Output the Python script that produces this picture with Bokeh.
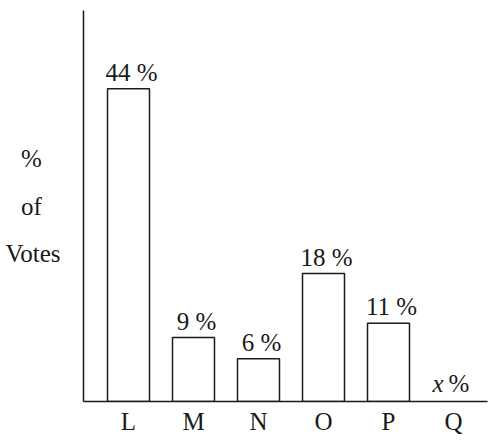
import numpy as np
from bokeh.plotting import figure
from bokeh.models import Range1d, FixedTicker, ColumnDataSource
from bokeh.core.properties import value
from bokeh.embed import file_html
from bokeh.resources import INLINE

categories = ["L", "M", "N", "O", "P", "Q"]
votes = [44, 9, 6, 18, 11, None]          # Q is the unknown x %
value_labels = ["44 %", "9 %", "6 %", "18 %", "11 %", "x %"]
y_title_lines = ["%", "of", "Votes"]

FONT = "Liberation Serif"
FS = "25px"
INK = "#1a1a1a"

W, H = 489, 443
LEFT, RIGHT, TOP, BOTTOM = 83, 2, 10, 42
frame_w = W - LEFT - RIGHT
step_px = 65.0
x0 = -45.0 / step_px
x_range = Range1d(x0, x0 + frame_w / step_px)
y_range = Range1d(0, 55)

p = figure(width=W, height=H, output_backend="svg", toolbar_location=None,
           x_range=x_range, y_range=y_range,
           min_border_left=LEFT, min_border_right=RIGHT,
           min_border_top=TOP, min_border_bottom=BOTTOM)
p.outline_line_color = None
p.grid.visible = False
p.background_fill_color = "white"

xs = list(range(len(categories)))
tops = [np.nan if v is None else v for v in votes]
src = ColumnDataSource(dict(x=xs, top=tops, label=value_labels))

p.vbar(x="x", top="top", bottom=0, width=0.646, source=src,
       fill_color="white", line_color=INK, line_width=1.5)

# value labels for known bars
known = [i for i, v in enumerate(votes) if v is not None]
p.text(x=[xs[i] for i in known], y=[votes[i] for i in known],
       text=[value_labels[i] for i in known],
       text_align="center", text_baseline="bottom", y_offset=-3, x_offset=3,
       text_font=value(FONT), text_font_size=FS, text_color=INK)

# unknown label "x %"
qi = [i for i, v in enumerate(votes) if v is None][0]
p.text(x=[xs[qi]], y=[0], text=["x"], text_align="left", text_baseline="bottom",
       x_offset=-21, y_offset=-5, text_font=value(FONT), text_font_style="italic",
       text_font_size=FS, text_color=INK)
p.text(x=[xs[qi]], y=[0], text=["%"], text_align="left", text_baseline="bottom",
       x_offset=-5, y_offset=-5, text_font=value(FONT),
       text_font_size=FS, text_color=INK)

# axes
p.xaxis.ticker = FixedTicker(ticks=xs)
p.xaxis.major_label_overrides = {i: c for i, c in enumerate(categories)}
p.xaxis.major_tick_line_color = None
p.xaxis.minor_tick_line_color = None
p.xaxis.major_tick_out = 0
p.xaxis.major_label_standoff = 6
p.xaxis.major_label_text_font = FONT
p.xaxis.major_label_text_font_size = FS
p.xaxis.major_label_text_color = INK
p.xaxis.axis_line_color = INK
p.xaxis.axis_line_width = 1.5

p.yaxis.ticker = FixedTicker(ticks=[])
p.yaxis.major_tick_line_color = None
p.yaxis.minor_tick_line_color = None
p.yaxis.major_label_text_color = None
p.yaxis.axis_line_color = INK
p.yaxis.axis_line_width = 1.5

# multi-line title; short lines padded with no-break spaces so they sit centred
NBSP = "\u00a0"
pad = {"%": 3, "of": 3, "Votes": 0}
p.yaxis.axis_label = "\n".join(t + NBSP * pad[t] for t in y_title_lines)
p.yaxis.axis_label_orientation = "horizontal"
p.yaxis.axis_label_text_line_height = 1.75
p.yaxis.axis_label_standoff = 23
p.yaxis.axis_label_text_font = FONT
p.yaxis.axis_label_text_font_size = FS
p.yaxis.axis_label_text_font_style = "normal"
p.yaxis.axis_label_text_color = INK

open("out.html", "w").write(file_html(p, INLINE))
